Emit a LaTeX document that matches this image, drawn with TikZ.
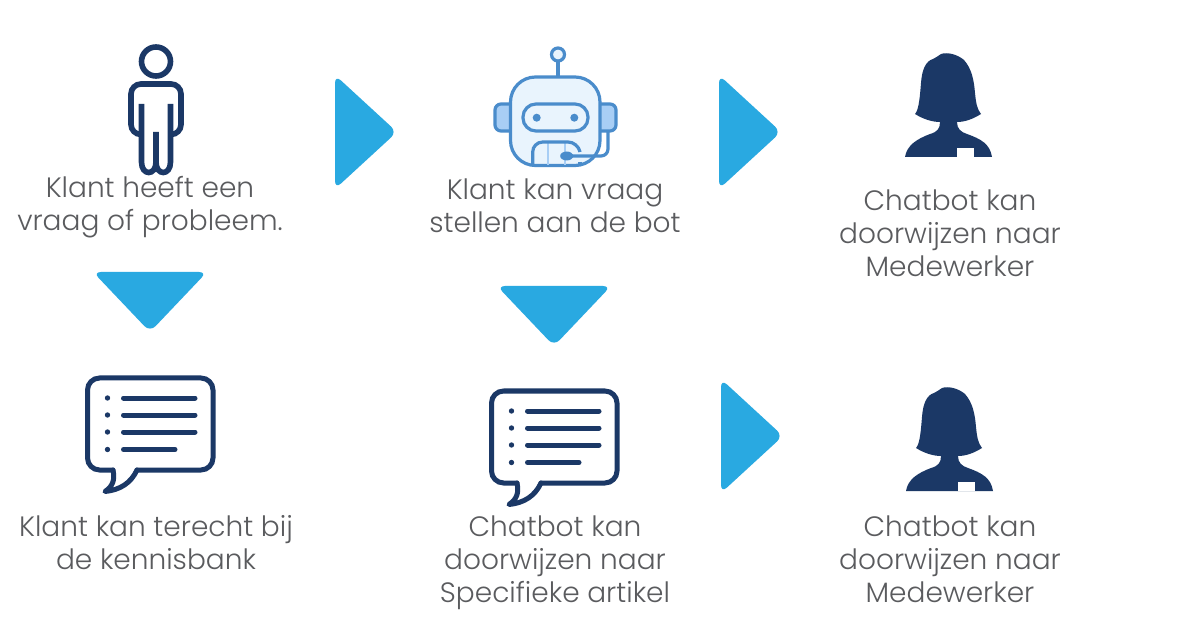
\documentclass[tikz,border=0pt]{standalone}
\usepackage{fontspec}
\setmainfont{Poppins Light}
\definecolor{cNavy}{HTML}{1B3866}
\definecolor{cSky}{HTML}{29A9E1}
\definecolor{cText}{HTML}{5A5B5E}
\definecolor{cBot}{HTML}{4A8CCB}
\definecolor{cBotFace}{HTML}{E9F4FD}
\definecolor{cBotEar}{HTML}{A8CEF5}
\usetikzlibrary{positioning}
\tikzset{
  label-text/.style={align=center,text=cText,inner sep=0pt,
    font=\fontsize{28}{33}\selectfont},
  icon-line/.style={draw=cNavy,line width=5pt,line cap=round,line join=round},
  person-line/.style={draw=cNavy,line width=5.6pt},
  bot-line/.style={draw=cBot,line width=3.2pt},
  pics/arrow-right/.style={code={
    \fill[cSky,rounded corners=8pt] (-31,-57) -- (31,0) -- (-31,57) -- cycle;
  }},
  pics/arrow-down/.style={code={
    \fill[cSky,rounded corners=8pt] (-57,-29) -- (57,-29) -- (0,31) -- cycle;
  }},
  pics/person/.style={code={
    \draw[person-line] (0,-48.5) circle (14.5);
    \draw[person-line] (-14.5,-6) -- (-14.5,52) .. controls (-14.5,66) and (0,66) .. (0,52) -- (0,22);
    \draw[person-line] (14.5,-6) -- (14.5,52) .. controls (14.5,66) and (0,66) .. (0,52);
    \draw[person-line,rounded corners=10pt] (-14.5,24.5) -- (-25,24.5) -- (-25,-26) -- (25,-26)
      -- (25,24.5) -- (14.5,24.5);
  }},
  pics/bubble/.style={code={
    \draw[icon-line,rounded corners=12pt] (-37,37) -- (-62.5,37) -- (-62.5,-55) -- (63,-55)
      -- (63,37) -- (-13,37);
    \draw[icon-line] (-37,37) .. controls (-35,47) and (-37,53) .. (-45,58.5)
      .. controls (-30,57) and (-19,50) .. (-13,37);
    \foreach \y in {-35,-18,-1,16.5}
      \fill[cNavy] (-42.5,\y) circle (2.7);
    \foreach \y in {-35,-18,-1}
      \draw[icon-line] (-26.5,\y) -- (45,\y);
    \draw[icon-line] (-26.5,16.5) -- (25,16.5);
  }},
  pics/bot/.style={code={
    \draw[bot-line,fill=cBotEar,rounded corners=6pt] (-45,-6) -- (-60,-6) -- (-60,21) -- (-45,21);
    \draw[bot-line,fill=cBotEar,rounded corners=6pt] (45,-6) -- (61,-6) -- (61,21) -- (45,21);
    \draw[bot-line] (3,-49) -- (3,-33);
    \draw[bot-line,fill=cBotFace] (3,-55.5) circle (6.5);
    \draw[bot-line,fill=cBotFace,rounded corners=25pt] (-44.5,55.5) -- (-44.5,-33) -- (45,-33)
      -- (45,55.5) -- cycle;
    \draw[bot-line,fill=cBotFace,rounded corners=13pt] (-32,-6) rectangle (33,21);
    \fill[cBot] (-18.3,7.7) circle (4) (19.3,7.7) circle (4);
    \draw[draw=cBotEar,line width=1.2pt] (-7,32) -- (-7,55) (10,32) -- (10,55);
    \draw[bot-line,rounded corners=10pt] (-22.3,55) -- (-22.3,32) -- (23,32) -- (25,42);
    \draw[bot-line,rounded corners=7pt] (12,46) -- (53,46) -- (53,21);
    \fill[cBot] (11.7,46) ellipse (6.5 and 4.5);
    \draw[bot-line] (25,52) -- (25,55);
  }},
  pics/agent/.style={code={
    \fill[cNavy] (-34,9) .. controls (-30,5) and (-29,-10) .. (-28,-22)
      .. controls (-27,-36) and (-23,-44) .. (-16,-46)
      .. controls (-13,-48) and (-10,-49) .. (-8,-51)
      .. controls (-2,-53) and (8,-51) .. (15,-45)
      .. controls (23,-36) and (25,-24) .. (26,-12)
      .. controls (27,-2) and (28,4) .. (32,9)
      .. controls (24,14) and (16,17) .. (8,17)
      .. controls (8,24) and (12,27) .. (18,29)
      .. controls (32,34) and (41,39) .. (43,52)
      -- (-44,52)
      .. controls (-42,40) and (-32,34) .. (-19,29)
      .. controls (-12,27) and (-9,24) .. (-9,17)
      .. controls (-17,17) and (-26,14) .. (-34,9) -- cycle;
    \fill[white] (8,43) rectangle (25,52);
  }},
}
\begin{document}
\begin{tikzpicture}[x=1pt,y=-1pt]
  \useasboundingbox (0,0) rectangle (1200,628);
  \fill[white] (0,0) rectangle (1200,628);
  % bovenste rij
  \pic (klant) at (156,110) {person};
  \pic (bot) at (555,110) {bot};
  \pic (agentTop) at (949,105) {agent};
  \node[label-text] (vraag) at (150,207) {Klant heeft een\\vraag of probleem.};
  \node[label-text] (stellen) at (555,206) {Klant kan vraag\\stellen aan de bot};
  \node[label-text] (doorTop) at (950,233) {Chatbot kan\\doorwijzen naar\\Medewerker};
  \pic (pijlA) at (366,132) {arrow-right};
  \pic (pijlB) at (750,132) {arrow-right};
  % onderste rij
  \pic (pijlC) at (150,301) {arrow-down};
  \pic (pijlD) at (554,315) {arrow-down};
  \pic (pijlE) at (752,436) {arrow-right};
  \pic (kennis) at (150,433) {bubble};
  \pic (artikel) at (554,446) {bubble};
  \pic (agentLow) at (950,439) {agent};
  \node[label-text] (bank) at (156,543) {Klant kan terecht bij\\de kennisbank};
  \node[label-text] (doorMid) at (555,563) {Chatbot kan\\doorwijzen naar\\Specifieke artikel};
  \node[label-text] (doorLow) at (950,559) {Chatbot kan\\doorwijzen naar\\Medewerker};
\end{tikzpicture}
\end{document}
